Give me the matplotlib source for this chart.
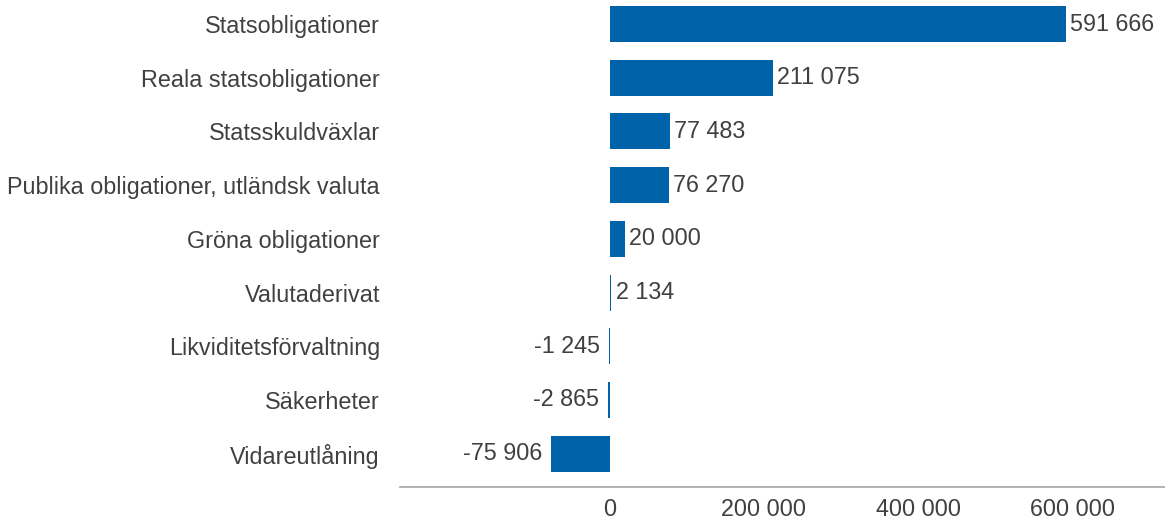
import matplotlib.pyplot as plt
from matplotlib.ticker import FuncFormatter

plt.rcParams['font.family'] = ['Liberation Sans', 'DejaVu Sans']

categories = ['Statsobligationer', 'Reala statsobligationer', 'Statsskuldväxlar',
              'Publika obligationer, utländsk valuta', 'Gröna obligationer',
              'Valutaderivat', 'Likviditetsförvaltning', 'Säkerheter', 'Vidareutlåning']
values = [591666, 211075, 77483, 76270, 20000, 2134, -1245, -2865, -75906]
xticks = [0, 200000, 400000, 600000]

bar_color = '#0063a9'
text_color = '#404040'
fs = 16.8


def fmt(v):
    return f"{int(v):,}".replace(",", " ")


fig = plt.figure(figsize=(11.65, 5.19), dpi=100)
ax = fig.add_axes([400 / 1165, 1 - 487 / 519, 765 / 1165, 487 / 519])

ypos = range(len(categories))
ax.barh(ypos, values, height=0.67, color=bar_color)

ax.set_xlim(-272000, 720000)
ax.set_ylim(8.62, -0.447)

for y, v in zip(ypos, values):
    if v >= 0:
        ax.annotate(fmt(v), (v, y), xytext=(3, 0), textcoords='offset points',
                    ha='left', va='center', fontsize=fs, color=text_color)
    else:
        ax.annotate(fmt(v), (v, y), xytext=(-6.5, 0), textcoords='offset points',
                    ha='right', va='center', fontsize=fs, color=text_color)

ax.set_yticks(list(ypos))
ax.set_yticklabels(categories, fontsize=fs, color=text_color)
ax.tick_params(axis='y', length=0, pad=14.4)
ax.set_xticks(xticks)
ax.xaxis.set_major_formatter(FuncFormatter(lambda v, p: fmt(v)))
ax.tick_params(axis='x', length=0, pad=8, labelsize=fs, labelcolor=text_color)

for s in ['top', 'right', 'left']:
    ax.spines[s].set_visible(False)
ax.spines['bottom'].set_color('#a6a6a6')
ax.spines['bottom'].set_linewidth(1.2)

fig.savefig('out.png', dpi=100)
